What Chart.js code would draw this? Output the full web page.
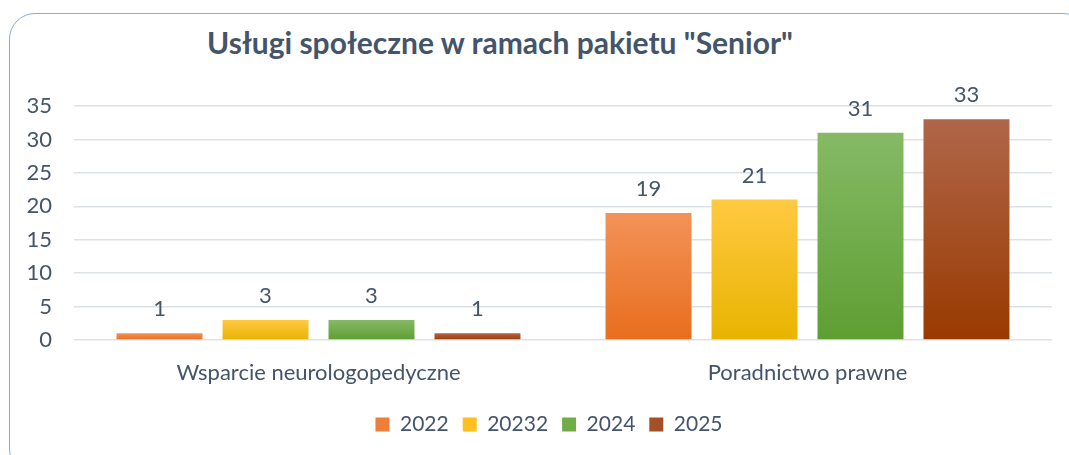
<!DOCTYPE html>
<html>
<head>
<meta charset="utf-8">
<script src="https://cdn.jsdelivr.net/npm/chart.js@4"></script>
<style>
  html, body { margin: 0; padding: 0; background: #fff; }
  body { width: 1069px; height: 455px; position: relative; overflow: hidden; font-family: Lato, sans-serif; }
  .frame { position: absolute; left: 9px; top: 13px; width: 1080px; height: 462px; border: 1.5px solid #8EA9DB; border-radius: 26px; box-sizing: border-box; }
  .title { position: absolute; left: 0; width: 1000px; top: 24px; text-align: center; font-weight: bold; font-size: 30px; line-height: 36px; color: #44546A; }
  #wrap { position: absolute; left: 0; top: 0; width: 1069px; height: 455px; }
</style>
</head>
<body>
<div class="frame"></div>
<div class="title">Usługi społeczne w ramach pakietu "Senior"</div>
<div id="wrap"><canvas id="chart"></canvas></div>
<script>
const categories = ['Wsparcie neurologopedyczne', 'Poradnictwo prawne'];
const seriesNames = ['2022', '20232', '2024', '2025'];
const values2022 = [1, 19];
const values20232 = [3, 21];
const values2024 = [3, 31];
const values2025 = [1, 33];
const yTicks = [0, 5, 10, 15, 20, 25, 30, 35];

const textColor = '#44546A';
const fontFamily = 'Lato';
// top / bottom gradient colours per series
const palette = [
  { top: '#F39258', bottom: '#E86E1E', mid: '#EE7F3A' },
  { top: '#FFC942', bottom: '#E8B400', mid: '#FDC01E' },
  { top: '#86BA66', bottom: '#5E9E32', mid: '#70AD47' },
  { top: '#B0664A', bottom: '#993A00', mid: '#A44F25' }
];

function barGradient(i) {
  return (ctx) => {
    const chart = ctx.chart;
    const y = chart.scales.y;
    if (!y || ctx.parsed == null) return palette[i].mid;
    const top = y.getPixelForValue(ctx.parsed.y);
    const base = y.getPixelForValue(0);
    if (!isFinite(top) || !isFinite(base) || top === base) return palette[i].mid;
    const g = chart.ctx.createLinearGradient(0, top, 0, base);
    g.addColorStop(0, palette[i].top);
    g.addColorStop(1, palette[i].bottom);
    return g;
  };
}

const allValues = [values2022, values20232, values2024, values2025];

const valueLabels = {
  id: 'valueLabels',
  afterDatasetsDraw(chart) {
    const c = chart.ctx;
    c.save();
    c.font = '22px ' + fontFamily;
    c.fillStyle = textColor;
    c.textAlign = 'center';
    c.textBaseline = 'alphabetic';
    chart.data.datasets.forEach((ds, di) => {
      chart.getDatasetMeta(di).data.forEach((bar, i) => {
        c.fillText(ds.data[i], bar.x, bar.y - 17);
      });
    });
    c.restore();
  }
};

// legend in the original sits a bit right of the canvas centre
const legendShift = {
  id: 'legendShift',
  afterLayout(chart) {
    if (chart.legend) {
      chart.legend.left += 23;
      chart.legend.right += 23;
    }
  }
};

new Chart(document.getElementById('chart'), {
  type: 'bar',
  data: {
    labels: categories,
    datasets: seriesNames.map((name, i) => ({
      label: name,
      data: allValues[i],
      backgroundColor: barGradient(i),
      borderWidth: 0,
      categoryPercentage: 0.867,
      barPercentage: 0.811
    }))
  },
  options: {
    responsive: true,
    maintainAspectRatio: false,
    animation: false,
    layout: { padding: { left: 0, right: 17, top: 106, bottom: 10 } },
    plugins: {
      title: { display: false },
      tooltip: { enabled: false },
      legend: {
        position: 'bottom',
        labels: {
          color: textColor,
          font: { family: fontFamily, size: 21 },
          boxWidth: 14,
          boxHeight: 14,
          padding: 14,
          generateLabels(chart) {
            return chart.data.datasets.map((ds, i) => ({
              text: ds.label,
              fillStyle: palette[i].mid,
              strokeStyle: palette[i].mid,
              lineWidth: 0,
              datasetIndex: i,
              fontColor: textColor
            }));
          }
        }
      }
    },
    scales: {
      x: {
        grid: { display: false },
        border: { display: false },
        ticks: { color: textColor, font: { family: fontFamily, size: 22 }, padding: 12 },
        afterFit(scale) { scale.height = 60; }
      },
      y: {
        min: 0,
        max: 35,
        afterBuildTicks(scale) { scale.ticks = yTicks.map(v => ({ value: v })); },
        grid: { color: '#DDE2E8', lineWidth: 1.5, drawTicks: false },
        border: { display: false },
        ticks: { color: textColor, font: { family: fontFamily, size: 22 }, padding: 22 },
        afterFit(scale) { scale.width = 74; }
      }
    }
  },
  plugins: [valueLabels, legendShift]
});
</script>
</body>
</html>
